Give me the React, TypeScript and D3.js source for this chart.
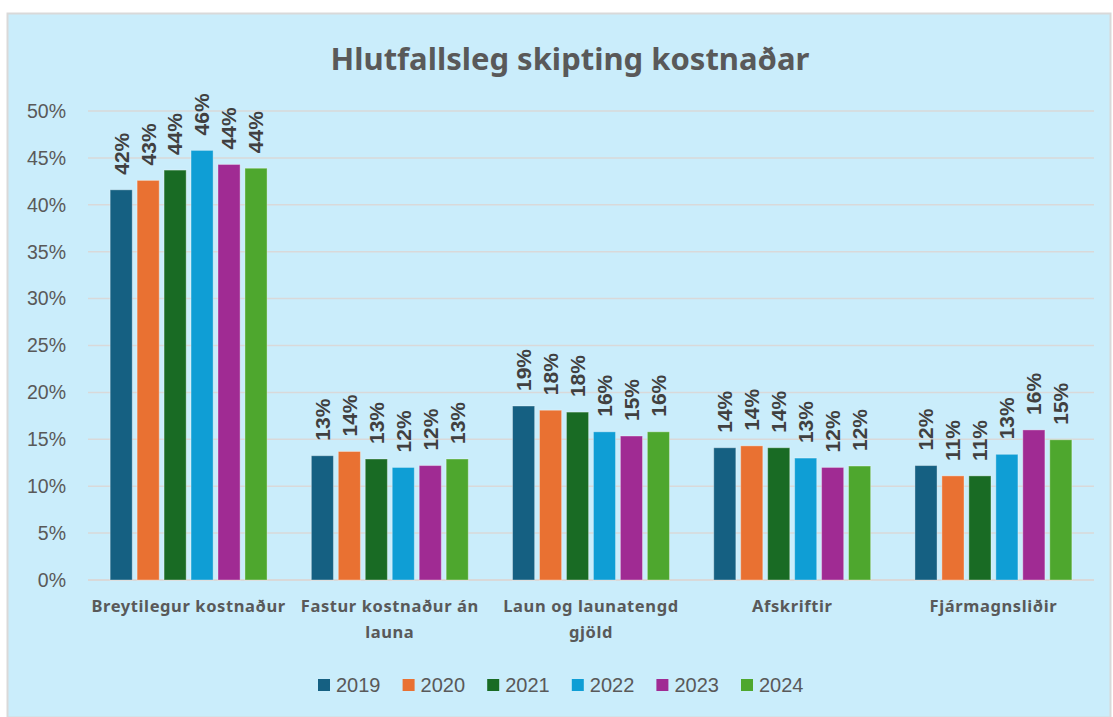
import React from 'react';
import * as d3 from 'd3';

const categories = [
  ['Breytilegur kostnaður'],
  ['Fastur kostnaður án', 'launa'],
  ['Laun og launatengd', 'gjöld'],
  ['Afskriftir'],
  ['Fjármagnsliðir'],
];
const years = ['2019', '2020', '2021', '2022', '2023', '2024'];
const colors = ['#156082', '#E97132', '#196B24', '#0F9ED5', '#A02B93', '#4EA72E'];

// values per year, in category order
const v2019 = [41.6, 13.25, 18.55, 14.1, 12.2];
const v2020 = [42.6, 13.7, 18.1, 14.3, 11.1];
const v2021 = [43.7, 12.9, 17.9, 14.1, 11.1];
const v2022 = [45.8, 12.0, 15.8, 13.0, 13.4];
const v2023 = [44.3, 12.2, 15.35, 12.0, 16.0];
const v2024 = [43.9, 12.9, 15.8, 12.15, 14.95];
const series = [v2019, v2020, v2021, v2022, v2023, v2024];
const yTicks = [0, 5, 10, 15, 20, 25, 30, 35, 40, 45, 50];

const W = 1113;
const H = 717;
const margin = { top: 111, right: 19, bottom: 137, left: 88 };

export default function App() {
  const keys = categories.map((c) => c.join(' '));
  const x0 = d3.scaleBand().domain(keys).range([margin.left, W - margin.right]).paddingInner(0.22).paddingOuter(0.11);
  const x1 = d3.scaleBand().domain(years).range([0, x0.bandwidth()]).paddingInner(0.18);
  const y = d3.scaleLinear().domain([0, 50]).range([H - margin.bottom, margin.top]);
  const sans = 'Liberation Sans, Arial, sans-serif';

  return (
    <svg width={W} height={H} style={{ position: 'absolute', left: 0, top: 0 }}>
      <rect x={7.5} y={13.5} width={1103} height={704} fill="#CAEDFB" stroke="#D9D9D9" strokeWidth={2} />
      <text x={570} y={70} textAnchor="middle" fontFamily="Noto Sans, sans-serif" fontWeight={700} fontSize={31} fill="#595959">
        Hlutfallsleg skipting kostnaðar
      </text>
      {yTicks.map((t) => (
        <g key={t}>
          <line x1={margin.left} x2={W - margin.right} y1={y(t)} y2={y(t)} stroke="#D9D9D9" strokeWidth={t === 0 ? 2 : 1.5} />
          <text x={66} y={y(t)} dy="0.35em" textAnchor="end" fontFamily={sans} fontSize={19.5} fill="#595959">
            {t}%
          </text>
        </g>
      ))}
      {keys.map((k, ci) => (
        <g key={k} transform={`translate(${x0(k)},0)`}>
          {years.map((yr, si) => {
            const v = series[si][ci];
            const bx = x1(yr)!;
            const cx = bx + x1.bandwidth() / 2;
            return (
              <g key={yr}>
                <rect x={bx} y={y(v)} width={x1.bandwidth()} height={y(0) - y(v)} fill={colors[si]} stroke="rgba(255,255,255,0.35)" strokeWidth={1} />
                <text
                  transform={`translate(${cx},${y(v) - 15}) rotate(-90)`}
                  dy="0.35em"
                  fontFamily={sans}
                  fontWeight={700}
                  fontSize={21}
                  fill="#404040"
                >
                  {Math.round(v)}%
                </text>
              </g>
            );
          })}
          {categories[ci].map((line, li) => (
            <text
              key={li}
              x={x0.bandwidth() / 2}
              y={612 + li * 26}
              textAnchor="middle"
              fontFamily="Noto Sans, sans-serif"
              fontWeight={700}
              fontSize={16.5}
              letterSpacing={0.6}
              fill="#595959"
            >
              {line}
            </text>
          ))}
        </g>
      ))}
      {years.map((yr, i) => (
        <g key={yr} transform={`translate(${318 + i * 84.6},685)`}>
          <rect x={0} y={-6} width={12} height={12} fill={colors[i]} />
          <text x={18} y={0} dy="0.36em" fontFamily={sans} fontSize={20} fill="#595959">
            {yr}
          </text>
        </g>
      ))}
    </svg>
  );
}
